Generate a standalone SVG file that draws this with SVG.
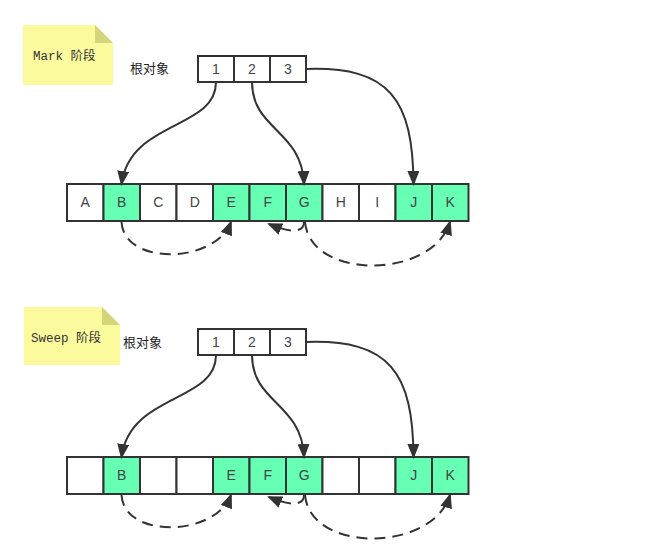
<svg xmlns="http://www.w3.org/2000/svg" width="655" height="552" viewBox="0 0 655 552">
<style>
.note{fill:#fbfb9e;}
.fold{fill:#d4d47a;}
.nt{font-family:"Liberation Mono","Noto Sans CJK SC",monospace;font-size:12.5px;fill:#333;}
.lbl{font-family:"Liberation Sans","Noto Sans CJK SC",sans-serif;font-size:13px;fill:#222;}
.cell{fill:#fff;stroke:#333;stroke-width:2;}
.g{fill:#66ffb3;}
.ct{font-family:"Liberation Sans",Arial,sans-serif;font-size:14px;fill:#444;text-anchor:middle;}
.arr{fill:none;stroke:#333;stroke-width:2;marker-end:url(#ah);}
.dash{fill:none;stroke:#333;stroke-width:2;stroke-dasharray:11 7;marker-end:url(#ah);}
</style>
<defs>
<marker id="ah" markerWidth="16" markerHeight="12" refX="13" refY="6" orient="auto" markerUnits="userSpaceOnUse">
<path d="M0,0 L15,6 L0,12 Z" fill="#333"/>
</marker>
<g id="rootcells">
<rect class="cell" x="198" y="0" width="36" height="26"/>
<rect class="cell" x="234" y="0" width="36" height="26"/>
<rect class="cell" x="270" y="0" width="36" height="26"/>
<text class="ct" x="216" y="18">1</text>
<text class="ct" x="252" y="18">2</text>
<text class="ct" x="288" y="18">3</text>
</g>
</defs>

<!-- Mark phase -->
<g id="note-mark">
<path class="note" d="M23,25 H95 L113,43 V85 H23 Z"/>
<path class="fold" d="M95,25 L113,43 H95 Z"/>
<text class="nt" x="33" y="60">Mark 阶段</text>
</g>
<g id="label-root-mark"><text class="lbl" x="130" y="73">根对象</text></g>
<g id="roots-mark" transform="translate(0,56)"><use href="#rootcells"/></g>
<g id="array-mark">
<rect class="cell" x="67" y="184" width="36.5" height="37"/>
<rect class="cell g" x="103.5" y="184" width="36.5" height="37"/>
<rect class="cell" x="140" y="184" width="36.5" height="37"/>
<rect class="cell" x="176.5" y="184" width="36.5" height="37"/>
<rect class="cell g" x="213" y="184" width="36.5" height="37"/>
<rect class="cell g" x="249.5" y="184" width="36.5" height="37"/>
<rect class="cell g" x="286" y="184" width="36.5" height="37"/>
<rect class="cell" x="322.5" y="184" width="36.5" height="37"/>
<rect class="cell" x="359" y="184" width="36.5" height="37"/>
<rect class="cell g" x="395.5" y="184" width="36.5" height="37"/>
<rect class="cell g" x="432" y="184" width="36.5" height="37"/>
<text class="ct" x="85.25" y="207">A</text>
<text class="ct" x="121.75" y="207">B</text>
<text class="ct" x="158.25" y="207">C</text>
<text class="ct" x="194.75" y="207">D</text>
<text class="ct" x="231.25" y="207">E</text>
<text class="ct" x="267.75" y="207">F</text>
<text class="ct" x="304.25" y="207">G</text>
<text class="ct" x="340.75" y="207">H</text>
<text class="ct" x="377.25" y="207">I</text>
<text class="ct" x="413.75" y="207">J</text>
<text class="ct" x="450.25" y="207">K</text>
</g>
<g id="connectors-mark">
<path class="arr" d="M216,82 C216,130 130,120 121.5,184"/>
<path class="arr" d="M252,82 C252,130 302,130 304,184"/>
<path class="arr" d="M306,69 C390,66 413,100 413.5,184"/>
<path class="dash" d="M121.5,222 C124,266 215,264 231,222"/>
<path class="dash" d="M304,222 C304,233 290,233 269,224"/>
<path class="dash" d="M305,222 C310,280 432,280 450,222"/>
</g>

<!-- Sweep phase -->
<g id="note-sweep">
<path class="note" d="M24,307 H102 L120,325 V365 H24 Z"/>
<path class="fold" d="M102,307 L120,325 H102 Z"/>
<text class="nt" x="31" y="342">Sweep 阶段</text>
</g>
<g id="label-root-sweep"><text class="lbl" x="123" y="347">根对象</text></g>
<g id="roots-sweep" transform="translate(0,329)"><use href="#rootcells"/></g>
<g id="array-sweep">
<rect class="cell" x="67" y="457" width="36.5" height="37"/>
<rect class="cell g" x="103.5" y="457" width="36.5" height="37"/>
<rect class="cell" x="140" y="457" width="36.5" height="37"/>
<rect class="cell" x="176.5" y="457" width="36.5" height="37"/>
<rect class="cell g" x="213" y="457" width="36.5" height="37"/>
<rect class="cell g" x="249.5" y="457" width="36.5" height="37"/>
<rect class="cell g" x="286" y="457" width="36.5" height="37"/>
<rect class="cell" x="322.5" y="457" width="36.5" height="37"/>
<rect class="cell" x="359" y="457" width="36.5" height="37"/>
<rect class="cell g" x="395.5" y="457" width="36.5" height="37"/>
<rect class="cell g" x="432" y="457" width="36.5" height="37"/>
<text class="ct" x="121.75" y="480">B</text>
<text class="ct" x="231.25" y="480">E</text>
<text class="ct" x="267.75" y="480">F</text>
<text class="ct" x="304.25" y="480">G</text>
<text class="ct" x="413.75" y="480">J</text>
<text class="ct" x="450.25" y="480">K</text>
</g>
<g id="connectors-sweep">
<path class="arr" d="M216,355 C216,403 130,393 121.5,457"/>
<path class="arr" d="M252,355 C252,403 302,403 304,457"/>
<path class="arr" d="M306,342 C390,339 413,373 413.5,457"/>
<path class="dash" d="M121.5,495 C124,539 215,537 231,495"/>
<path class="dash" d="M304,495 C304,506 290,506 269,497"/>
<path class="dash" d="M305,495 C310,553 432,553 450,495"/>
</g>
</svg>
